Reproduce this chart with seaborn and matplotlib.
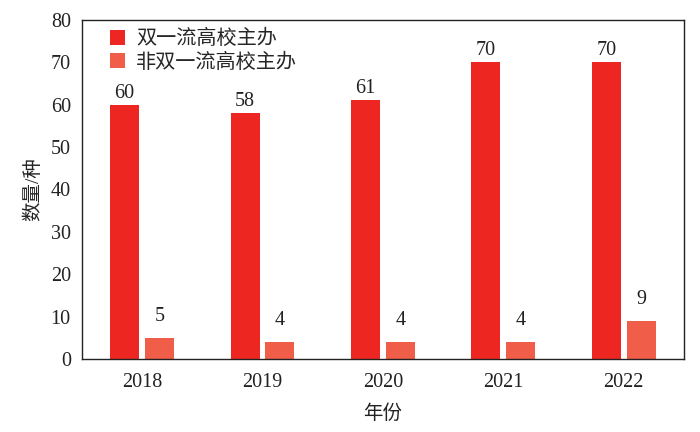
import pandas as pd
import matplotlib.pyplot as plt
import seaborn as sns

years = ["2018", "2019", "2020", "2021", "2022"]
series_names = ["双一流高校主办", "非双一流高校主办"]
double_first = [60, 58, 61, 70, 70]
non_double_first = [5, 4, 4, 4, 9]
colors = ["#EE2622", "#F05E4A"]


def main():
    df = pd.DataFrame(
        {
            "年份": years * 2,
            "数量": double_first + non_double_first,
            "类型": [series_names[0]] * len(years) + [series_names[1]] * len(years),
        }
    )

    sns.set_style("white")
    plt.rcParams["font.family"] = ["Liberation Serif", "Noto Sans CJK SC"]
    plt.rcParams["axes.unicode_minus"] = False

    fig = plt.figure(figsize=(7, 4.32), dpi=100)
    ax = fig.add_axes([0.117, 0.169, 0.860, 0.785])

    sns.barplot(
        data=df,
        x="年份",
        y="数量",
        hue="类型",
        palette=colors,
        width=0.58,
        gap=0.17,
        saturation=1,
        linewidth=0,
        edgecolor="none",
        ax=ax,
    )

    # small bars have their labels lifted a bit more in the original
    for cont, pad in zip(ax.containers, [1.5, 8.5]):
        ax.bar_label(cont, padding=pad, fontsize=14.5, color="#222222")

    ax.set_ylim(0, 80)
    ax.set_xlim(-0.5, 4.5)
    ax.set_yticks(range(0, 81, 10))
    ax.set_xlabel("年份", fontsize=14, labelpad=9, color="#222222")
    ax.set_ylabel("数量/种", fontsize=14, labelpad=6, color="#222222")
    ax.tick_params(axis="y", direction="in", length=5, labelsize=14.5, colors="#222222", pad=8)
    ax.tick_params(axis="x", length=0, labelsize=14.5, colors="#222222", pad=10)
    for s in ax.spines.values():
        s.set_visible(True)
        s.set_color("#222222")
        s.set_linewidth(1.0)

    ax.legend(
        loc="upper left",
        bbox_to_anchor=(0.03, 1.0),
        frameon=False,
        fontsize=14.5,
        handlelength=0.75,
        handleheight=0.75,
        handletextpad=0.55,
        labelspacing=0.2,
        borderaxespad=0.1,
    )

    fig.savefig("out.png", dpi=100)


if __name__ == "__main__":
    main()
